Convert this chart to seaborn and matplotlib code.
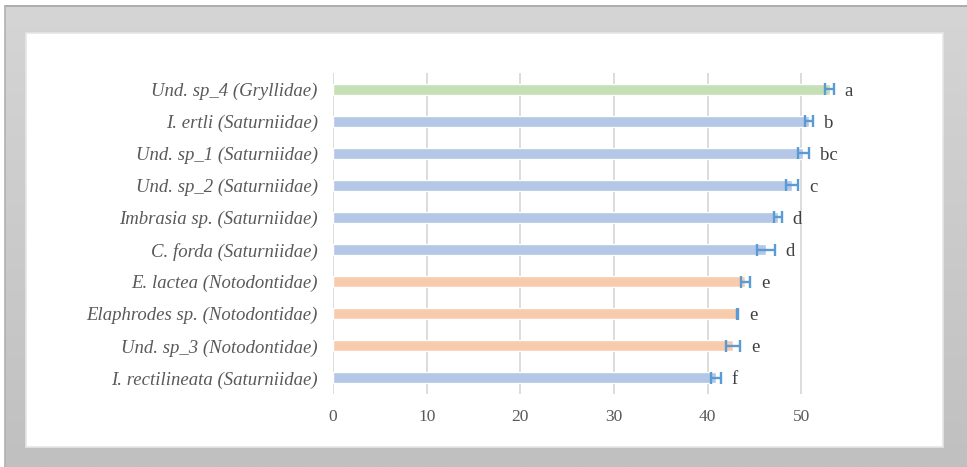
import matplotlib
matplotlib.use("Agg")
import matplotlib.pyplot as plt
import numpy as np
import pandas as pd
import seaborn as sns
from matplotlib.patches import Rectangle

species = [
    "Und. sp_4 (Gryllidae)",
    "I. ertli (Saturniidae)",
    "Und. sp_1 (Saturniidae)",
    "Und. sp_2 (Saturniidae)",
    "Imbrasia sp. (Saturniidae)",
    "C. forda (Saturniidae)",
    "E. lactea (Notodontidae)",
    "Elaphrodes sp. (Notodontidae)",
    "Und. sp_3 (Notodontidae)",
    "I. rectilineata (Saturniidae)",
]
family = ["Gryllidae", "Saturniidae", "Saturniidae", "Saturniidae", "Saturniidae",
          "Saturniidae", "Notodontidae", "Notodontidae", "Notodontidae", "Saturniidae"]
values = [53.0, 50.8, 50.2, 49.0, 47.5, 46.2, 44.0, 43.2, 42.7, 40.85]
errors = [0.43, 0.43, 0.59, 0.62, 0.40, 0.94, 0.48, 0.05, 0.78, 0.53]
letters = ["a", "b", "bc", "c", "d", "d", "e", "e", "e", "f"]
xticks = [0, 10, 20, 30, 40, 50]

palette = {"Gryllidae": "#c5e0b4", "Saturniidae": "#b4c7e7", "Notodontidae": "#f8cbad"}

df = pd.DataFrame({"species": species, "family": family, "value": values, "err": errors})

sns.set_theme(style="white")
plt.rcParams["font.family"] = ["Liberation Serif", "DejaVu Serif"]

W, H = 967, 467
fig = plt.figure(figsize=(W / 100, H / 100), dpi=100)
fig.patch.set_facecolor("white")

# background frame with gradient
bg = fig.add_axes([0, 0, 1, 1], zorder=-10)
bg.set_xlim(0, W)
bg.set_ylim(H, 0)
bg.axis("off")
grad = np.linspace(0, 1, 256).reshape(-1, 1)
c_top = np.array([0xd5, 0xd5, 0xd5]) / 255
c_bot = np.array([0xc0, 0xc0, 0xc0]) / 255
img = c_top + (c_bot - c_top) * grad[..., None]
img = np.repeat(img, 2, axis=1)
bg.imshow(img, extent=[4.5, W + 2, H, 5.5], aspect="auto", zorder=0)
bg.plot([4.5, W + 2], [5.5, 5.5], color="#a6a6a6", lw=1.2, zorder=1)
bg.plot([4.5, 4.5], [5.5, H], color="#b0b0b0", lw=1.2, zorder=1)
bg.add_patch(Rectangle((26, 33), 917, 414, facecolor="white",
                       edgecolor="#e6e6e6", lw=1.2, zorder=2))

ax = fig.add_axes([333 / W, 1 - 394 / H, (867 - 333) / W, (394 - 73) / H])
ax.patch.set_alpha(0)

sns.barplot(data=df, y="species", x="value", hue="family", palette=palette,
            order=species, dodge=False, legend=False, width=0.34, saturation=1,
            errorbar=None, ax=ax, zorder=2)

ypos = np.arange(len(species))
ax.errorbar(values, ypos, xerr=errors, fmt="none", ecolor="#5b9bd5",
            elinewidth=1.7, capsize=4.5, capthick=1.7, zorder=3)

for y, v, e, lab in zip(ypos, values, errors, letters):
    ax.annotate(lab, xy=(v + e, y), xytext=(8, 0), textcoords="offset points",
                ha="left", va="center_baseline", fontsize=13.5, color="#404040",
                annotation_clip=False)

ax.set_xlim(0, 57)
ax.set_ylim(len(species) - 0.5, -0.5)
ax.set_xticks(xticks)
ax.set_xticklabels([str(t) for t in xticks])
for t in xticks:
    ax.axvline(t, color="#d9d9d9", lw=1.3, zorder=0)
ax.grid(False)
for s in ax.spines.values():
    s.set_visible(False)
ax.set_xlabel("")
ax.set_ylabel("")
ax.tick_params(axis="x", length=0, pad=11, labelsize=12.5, labelcolor="#595959")
ax.tick_params(axis="y", length=0, pad=11, labelsize=13.5, labelcolor="#595959")
for lbl in ax.get_yticklabels():
    lbl.set_fontstyle("italic")

fig.savefig("out.png", dpi=100)
